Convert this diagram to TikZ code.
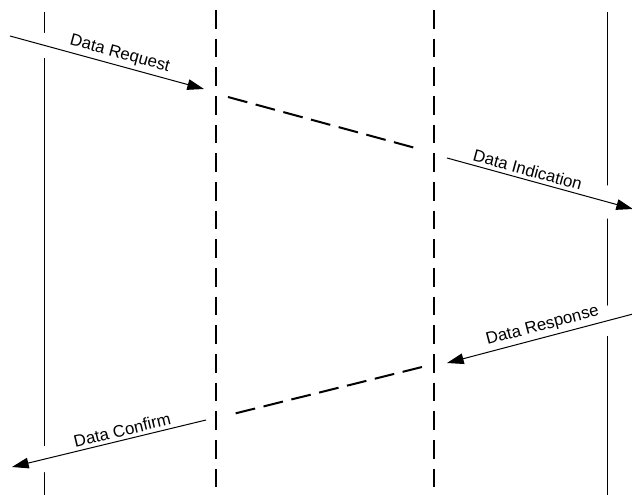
\documentclass[tikz,border=0pt]{standalone}
\usepackage{fontspec}
\setmainfont{Liberation Sans}
\usetikzlibrary{arrows.meta}

\tikzset{
  life/.style={line width=0.75pt},
  lane/.style={line width=1.5pt, dash pattern=on 14pt off 7.5pt},
  relay/.style={line width=1.5pt, dash pattern=on 15pt off 6.5pt},
  msg/.style={line width=0.75pt, -{Triangle[length=12.5pt, width=8pt]}},
  linegap/.style={preaction={draw=white, line width=#1, -}},
  lbl/.style={font=\fontsize{12.6}{14}\selectfont, sloped, above, inner sep=2.5pt},
}

\begin{document}
\begin{tikzpicture}[x=0.75pt, y=-0.75pt]
    \useasboundingbox (0,0) rectangle (632,495);

    % lifelines
    \coordinate (host top) at (44,12);
    \coordinate (host bot) at (44,495);
    \coordinate (near top) at (216,10);
    \coordinate (near bot) at (216,495);
    \coordinate (far top) at (434,10);
    \coordinate (far bot) at (434,495);
    \coordinate (peer top) at (607,12);
    \coordinate (peer bot) at (607,495);

    \draw[life] (host top) -- (host bot);
    \draw[life] (peer top) -- (peer bot);
    \draw[lane] (near top) -- (near bot);
    \draw[lane] (far top) -- (far bot);

    % message end points
    \coordinate (req s) at (10,36);
    \coordinate (req e) at (204,89);
    \coordinate (fwd s) at (228,97);
    \coordinate (fwd e) at (419,149);
    \coordinate (ind s) at (447,158);
    \coordinate (ind e) at (633,209);
    \coordinate (rsp s) at (633,314);
    \coordinate (rsp e) at (447,363);
    \coordinate (bck s) at (422,367);
    \coordinate (bck e) at (229,415);
    \coordinate (cnf s) at (206,420);
    \coordinate (cnf e) at (12,467);

    \draw[msg, linegap=18pt] (req s) -- node[lbl, pos=0.55] {Data Request} (req e);
    \draw[relay] (fwd s) -- (fwd e);
    \draw[msg, linegap=24pt] (ind s) -- node[lbl, pos=0.42] {Data Indication} (ind e);

    \draw[msg, linegap=22pt] (rsp s) -- node[lbl, pos=0.47] {Data Response} (rsp e);
    \draw[relay] (bck s) -- (bck e);
    \draw[msg, linegap=19pt] (cnf s) -- node[lbl, pos=0.42] {Data Confirm} (cnf e);
\end{tikzpicture}
\end{document}
